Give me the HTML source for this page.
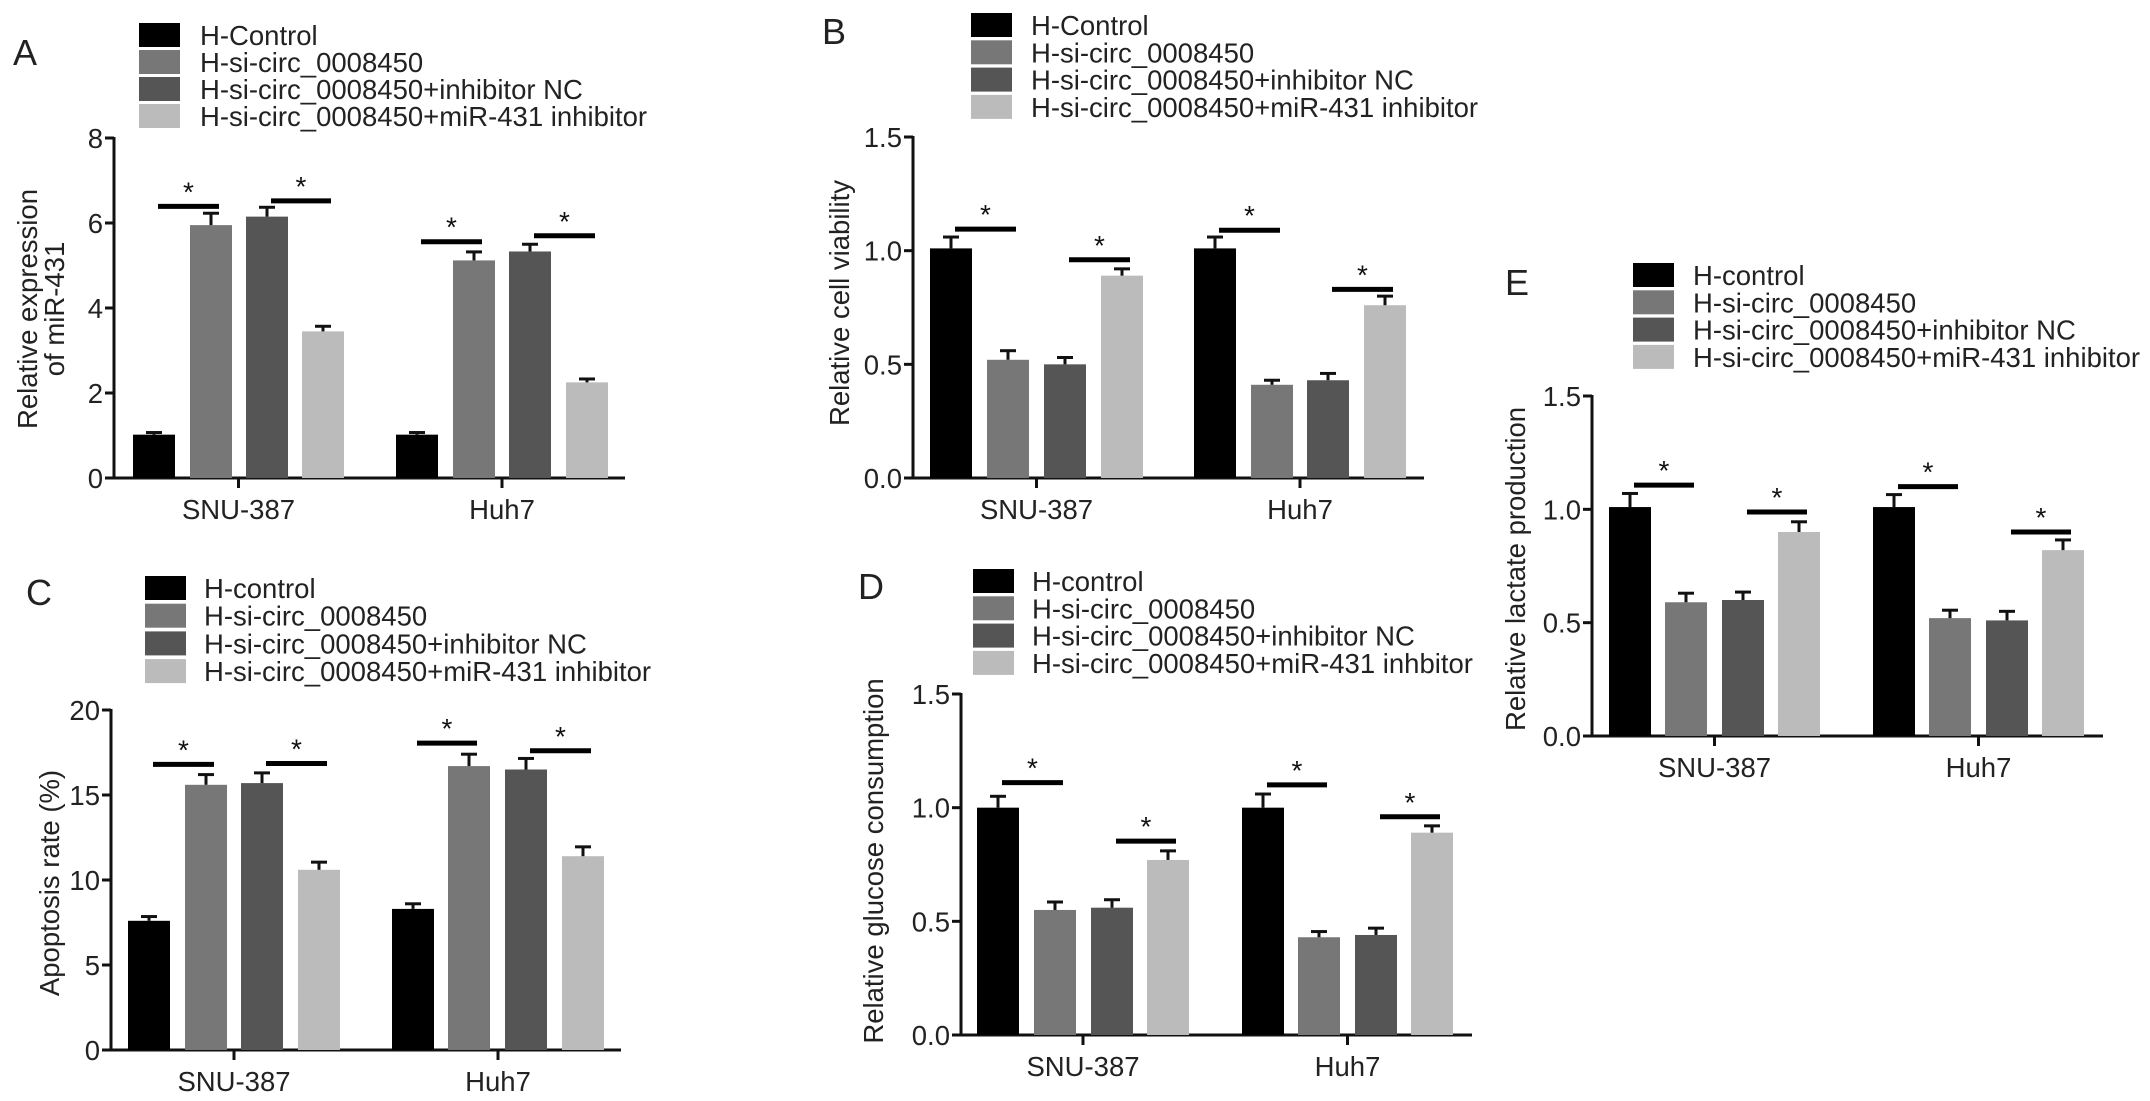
<!DOCTYPE html>
<html><head><meta charset="utf-8"><style>
html,body{margin:0;padding:0;background:#fff;}
svg{display:block;font-family:"Liberation Sans",Arial,sans-serif;}
</style></head><body>
<svg id="fig" width="2150" height="1101" viewBox="0 0 2150 1101" xmlns="http://www.w3.org/2000/svg"></svg>
<script>
const categories = ["SNU-387","Huh7"];
const colors = ["#000000","#777777","#555555","#bbbbbb"];
const legendA = ["H-Control","H-si-circ_0008450","H-si-circ_0008450+inhibitor NC","H-si-circ_0008450+miR-431 inhibitor"];
const legendC = ["H-control","H-si-circ_0008450","H-si-circ_0008450+inhibitor NC","H-si-circ_0008450+miR-431 inhibitor"];
const legendD = ["H-control","H-si-circ_0008450","H-si-circ_0008450+inhibitor NC","H-si-circ_0008450+miR-431 inhbitor"];

const valuesA = [[1.02,5.95,6.15,3.45],[1.02,5.12,5.33,2.25]];
const errorsA = [[0.05,0.28,0.22,0.12],[0.05,0.2,0.17,0.08]];
const sigA = [[6.39,6.52],[5.56,5.7]];
const ticksA = [0,2,4,6,8];
const tickLabelsA = ["0","2","4","6","8"];

const valuesB = [[1.01,0.52,0.50,0.89],[1.01,0.41,0.43,0.76]];
const errorsB = [[0.05,0.04,0.03,0.03],[0.05,0.02,0.03,0.04]];
const sigB = [[1.095,0.96],[1.09,0.83]];
const ticksB = [0,0.5,1.0,1.5];
const tickLabelsB = ["0.0","0.5","1.0","1.5"];

const valuesC = [[7.6,15.6,15.7,10.6],[8.3,16.7,16.5,11.4]];
const errorsC = [[0.25,0.6,0.6,0.45],[0.3,0.7,0.65,0.55]];
const sigC = [[16.8,16.85],[18.05,17.6]];
const ticksC = [0,5,10,15,20];
const tickLabelsC = ["0","5","10","15","20"];

const valuesD = [[1.0,0.55,0.56,0.77],[1.0,0.43,0.44,0.89]];
const errorsD = [[0.05,0.035,0.035,0.04],[0.06,0.025,0.03,0.03]];
const sigD = [[1.11,0.853],[1.1,0.96]];
const ticksD = [0,0.5,1.0,1.5];
const tickLabelsD = ["0.0","0.5","1.0","1.5"];

const valuesE = [[1.01,0.59,0.60,0.90],[1.01,0.52,0.51,0.82]];
const errorsE = [[0.06,0.04,0.035,0.045],[0.055,0.035,0.04,0.045]];
const sigE = [[1.107,0.988],[1.1,0.9]];
const ticksE = [0,0.5,1.0,1.5];
const tickLabelsE = ["0.0","0.5","1.0","1.5"];

const NS="http://www.w3.org/2000/svg";
const fig=document.getElementById('fig');
const FS=27.5;
function mk(tag,attrs,parent,text){const e=document.createElementNS(NS,tag);for(const k in attrs)e.setAttribute(k,attrs[k]);if(text!==undefined)e.textContent=text;(parent||fig).appendChild(e);return e;}

function panel(p){
  const g=mk('g',{});
  
  
  const yS=v=>p.y0-(v/p.max)*(p.y0-p.yTop);
  const t=mk('text',{x:p.letterX,y:p.letterY,'font-size':36,fill:'#222'},g,p.id);
  
  
  p.legend.forEach((lab,i)=>{
    const cy=p.legY[0]+i*p.legStep;
    const r=mk('rect',{x:p.swX,y:cy-12,width:41,height:24,fill:colors[i]},g);
    
    
    const tx=mk('text',{x:p.txX,y:cy+10,'font-size':FS,fill:'#222'},g,lab);
    
    
  });
  const ya=mk('line',{x1:p.ax,y1:p.yTop-1,x2:p.ax,y2:p.y0,stroke:'#111','stroke-width':3},g);
  
  
  const xa=mk('line',{x1:p.ax-1,y1:p.y0,x2:p.axEnd,y2:p.y0,stroke:'#111','stroke-width':3},g);
  
  
  p.ticks.forEach((v,i)=>{
    const y=yS(v);
    const tk=mk('line',{x1:p.ax-9,y1:y,x2:p.ax,y2:y,stroke:'#111','stroke-width':3},g);
    
    
    const tl=mk('text',{x:p.ax-11,y:y+10,'font-size':FS,'text-anchor':'end',fill:'#222'},g,p.tickLabels[i]);
    
    
  });
  const yt=mk('text',{transform:`translate(${p.ylX},${p.ylY}) rotate(-90)`,'font-size':FS,'text-anchor':'middle',fill:'#222'},g);
  
  
  p.ylabel.forEach((s,i)=>{mk('tspan',{x:0,dy:i?27:0},yt,s);});
  categories.forEach((c,gi)=>{
    const starts=p.barX[gi];
    const cx=(starts[0]+starts[3]+42)/2;
    const ct=mk('line',{x1:cx,y1:p.y0,x2:cx,y2:p.y0+10,stroke:'#111','stroke-width':3},g);
    
    
    const cl=mk('text',{x:cx,y:p.y0+41,'font-size':FS,'text-anchor':'middle',fill:'#222'},g,c);
    
    
    p.values[gi].forEach((v,si)=>{
      const x=starts[si],w=42,top=yS(v);
      const b=mk('rect',{x:x,y:top,width:w,height:p.y0-top,fill:colors[si]},g);
      
      
      const et=yS(v+p.errors[gi][si]);
      const e1=mk('line',{x1:x+w/2,y1:top,x2:x+w/2,y2:et,stroke:'#111','stroke-width':3},g);
      
      
      const e2=mk('line',{x1:x+w/2-8,y1:et,x2:x+w/2+8,y2:et,stroke:'#111','stroke-width':3},g);
      
      
    });
    p.sig[gi].forEach((sv,k)=>{
      const a=starts[k*2]+21+4,b2=starts[k*2+1]+21+8;
      const y=yS(sv);
      const sl=mk('line',{x1:a,y1:y,x2:b2,y2:y,stroke:'#000','stroke-width':5},g);
      
      
      const st=mk('text',{x:(a+b2)/2,y:y-5,'font-size':28,'text-anchor':'middle',fill:'#111'},g,'*');
      
      
    });
  });
}

panel({id:'A',letterX:13,letterY:65,legend:legendA,legY:[35],legStep:27,swX:139,txX:200,
  ax:114,axEnd:625,yTop:138,y0:478,max:8,ticks:ticksA,tickLabels:tickLabelsA,
  ylabel:["Relative expression","of miR-431"],ylX:37,ylY:309,
  barX:[[133,190,246,302],[396,453,509,566]],values:valuesA,errors:errorsA,sig:sigA});
panel({id:'B',letterX:822,letterY:44,legend:legendA,legY:[25],legStep:27.3,swX:971,txX:1031,
  ax:913,axEnd:1424,yTop:137,y0:478,max:1.5,ticks:ticksB,tickLabels:tickLabelsB,
  ylabel:["Relative cell viability"],ylX:849,ylY:303,
  barX:[[930,987,1044,1101],[1194,1251,1307,1364]],values:valuesB,errors:errorsB,sig:sigB});
panel({id:'C',letterX:26,letterY:605,legend:legendC,legY:[588],legStep:27.7,swX:145,txX:204,
  ax:111,axEnd:621,yTop:710,y0:1050,max:20,ticks:ticksC,tickLabels:tickLabelsC,
  ylabel:["Apoptosis rate (%)"],ylX:59,ylY:883,
  barX:[[128,185,241,298],[392,448,505,562]],values:valuesC,errors:errorsC,sig:sigC});
panel({id:'D',letterX:858,letterY:599,legend:legendD,legY:[581],legStep:27.3,swX:973,txX:1032,
  ax:961,axEnd:1472,yTop:694,y0:1035,max:1.5,ticks:ticksD,tickLabels:tickLabelsD,
  ylabel:["Relative glucose consumption"],ylX:883,ylY:861,
  barX:[[977,1034,1091,1147],[1242,1298,1355,1411]],values:valuesD,errors:errorsD,sig:sigD});
panel({id:'E',letterX:1505,letterY:295,legend:legendC,legY:[275],legStep:27.3,swX:1633,txX:1693,
  ax:1592,axEnd:2103,yTop:396,y0:736,max:1.5,ticks:ticksE,tickLabels:tickLabelsE,
  ylabel:["Relative lactate production"],ylX:1525,ylY:569,
  barX:[[1609,1665,1722,1778],[1873,1929,1986,2042]],values:valuesE,errors:errorsE,sig:sigE});
</script>
</body></html>
